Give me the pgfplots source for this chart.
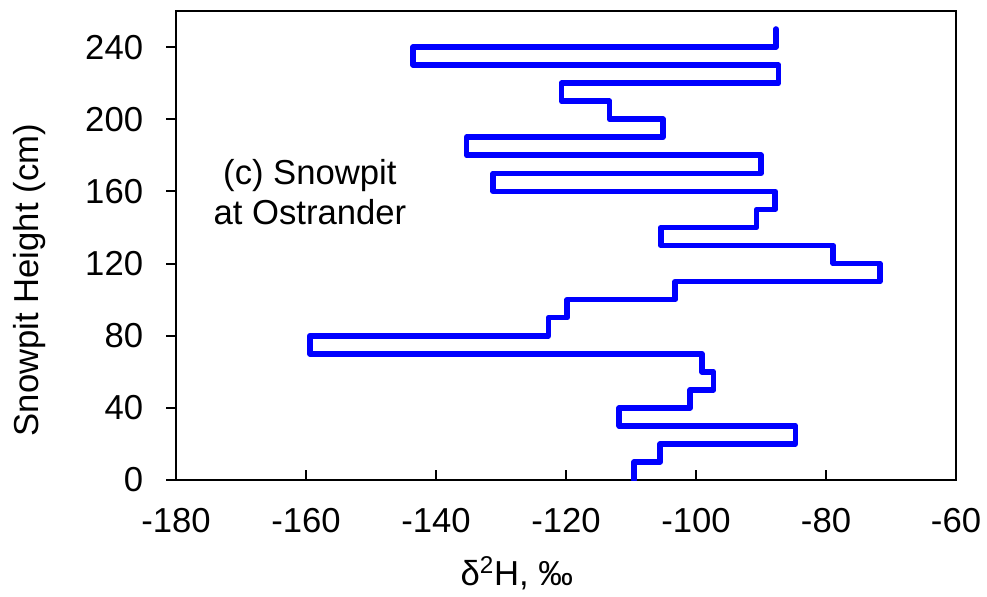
\documentclass[border=0pt]{standalone}
\usepackage{pgfplots}
\pgfplotsset{compat=1.18}
\usepackage{fontspec}
\setmainfont{Liberation Sans}

\definecolor{pitblue}{RGB}{0,0,255}
\newcommand{\bigfont}{\fontsize{26}{30}\selectfont}

\begin{document}
\begin{tikzpicture}[x=1pt,y=1pt]
\useasboundingbox (0,0) rectangle (740.25,447);
\begin{axis}[
  at={(132pt,87pt)}, anchor=south west,
  scale only axis,
  width=585pt, height=351.75pt,
  xmin=-180, xmax=-60, ymin=0, ymax=260,
  xtick={-180,-160,...,-60},
  ytick={0,40,...,240},
  xtick pos=bottom, ytick pos=left,
  xtick align=inside, ytick align=outside,
  major tick length=7.5pt,
  tick style={black, line width=1.5pt},
  axis line style={black, line width=1.5pt},
  /pgf/number format/assume math mode=true,
  ticklabel style={font=\bigfont},
  xticklabel style={anchor=north, inner sep=0pt, yshift=-21pt},
  yticklabel style={anchor=east, inner sep=0pt, xshift=-17pt},
  xlabel={δ\textsuperscript{2}H, ‰},
  ylabel={Snowpit Height (cm)},
  label style={font=\bigfont},
  xlabel style={at={(axis description cs:0.437,-0.224)}, anchor=base, inner sep=0pt},
  ylabel style={at={(axis description cs:-0.188,0.426)}, anchor=center, inner sep=0pt},
]
% stepped isotope profile, one value per 10 cm layer
\addplot[pitblue, line width=4.25pt, line join=round, line cap=round] coordinates {
  (-109.5,0)   (-109.5,10)
  (-105.5,10)  (-105.5,20)
  (-84.7,20)   (-84.7,30)
  (-111.8,30)  (-111.8,40)
  (-100.9,40)  (-100.9,50)
  (-97.3,50)   (-97.3,60)
  (-99.1,60)   (-99.1,70)
  (-159.4,70)  (-159.4,80)
  (-122.7,80)  (-122.7,90)
  (-119.8,90)  (-119.8,100)
  (-103.2,100) (-103.2,110)
  (-71.7,110)  (-71.7,120)
  (-78.9,120)  (-78.9,130)
  (-105.4,130) (-105.4,140)
  (-90.7,140)  (-90.7,150)
  (-87.8,150)  (-87.8,160)
  (-131.2,160) (-131.2,170)
  (-90.0,170)  (-90.0,180)
  (-135.3,180) (-135.3,190)
  (-105.1,190) (-105.1,200)
  (-113.3,200) (-113.3,210)
  (-120.7,210) (-120.7,220)
  (-87.3,220)  (-87.3,230)
  (-143.5,230) (-143.5,240)
  (-87.7,240)  (-87.7,250)
};
\node[font=\bigfont, align=center, inner sep=0pt] at (axis cs:-159.4,159.5)
  {(c) Snowpit\\at Ostrander};
\end{axis}
\end{tikzpicture}
\end{document}
